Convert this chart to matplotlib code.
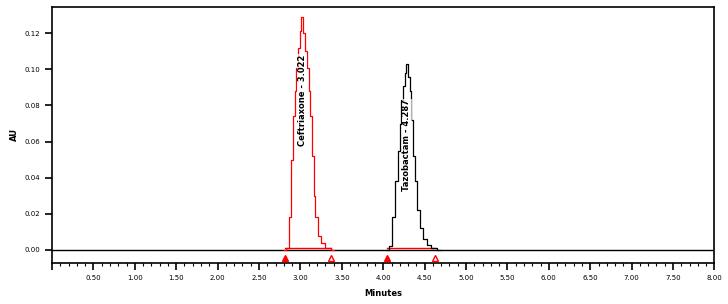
import numpy as np
import matplotlib
matplotlib.use("Agg")
from matplotlib import pyplot as plt
from matplotlib.ticker import MultipleLocator, FormatStrFormatter

# chromatogram readings (minutes, AU)
ceft_t = [2.80, 2.85, 2.87, 2.90, 2.92, 2.94, 2.96, 2.98, 3.00, 3.02,
          3.04, 3.06, 3.09, 3.11, 3.13, 3.15, 3.17, 3.19, 3.23, 3.27, 3.33, 3.40]
ceft_au = [0.000, 0.001, 0.018, 0.050, 0.074, 0.088, 0.101, 0.112, 0.121, 0.129,
           0.120, 0.110, 0.101, 0.088, 0.074, 0.052, 0.030, 0.018, 0.008, 0.004, 0.001, 0.000]
taz_t = [4.05, 4.09, 4.13, 4.16, 4.19, 4.21, 4.23, 4.25, 4.27, 4.29,
         4.31, 4.33, 4.35, 4.37, 4.39, 4.42, 4.46, 4.50, 4.55, 4.60, 4.70]
taz_au = [0.000, 0.002, 0.018, 0.038, 0.055, 0.070, 0.083, 0.091, 0.098, 0.103,
          0.096, 0.088, 0.072, 0.052, 0.038, 0.022, 0.012, 0.006, 0.003, 0.001, 0.000]

peak_names = ["Ceftriaxone - 3.022", "Tazobactam - 4.287"]
peak_rt = [3.022, 4.287]
label_y = [0.083, 0.058]
int_start = [2.81, 4.05]
int_end = [3.37, 4.63]

fig = plt.figure(figsize=(7.28, 3.04), dpi=100)
ax = fig.add_axes([0.0714, 0.135, 0.910, 0.842])

ax.axhline(0, color="black", lw=1.0, zorder=1)
ax.plot(ceft_t, ceft_au, color="red", lw=0.9, drawstyle="steps-mid", zorder=3)
ax.plot(taz_t, taz_au, color="black", lw=0.9, drawstyle="steps-mid", zorder=3)

# integration baselines + markers
for s, e in zip(int_start, int_end):
    ax.plot([s, e], [0.0012, 0.0012], color="red", lw=1.0, zorder=2)
    ax.plot([s], [-0.0042], marker="^", color="red", ms=5, zorder=4)
    ax.plot([e], [-0.0042], marker="^", mfc="white", mec="red", ms=5, zorder=4)

for name, rt, yy in zip(peak_names, peak_rt, label_y):
    ax.text(rt, yy, name, rotation=90, ha="center", va="center",
            fontsize=6, fontweight="bold", color="black", zorder=5,
            bbox=dict(facecolor="white", edgecolor="none", pad=0.2, alpha=0.7))

ax.set_xlim(0, 8.0)
ax.set_ylim(-0.0072, 0.1345)
ax.xaxis.set_major_locator(MultipleLocator(0.5))
ax.xaxis.set_minor_locator(MultipleLocator(0.1))
ax.xaxis.set_major_formatter(FormatStrFormatter("%.2f"))
ax.yaxis.set_major_locator(MultipleLocator(0.02))
ax.yaxis.set_major_formatter(FormatStrFormatter("%.2f"))
ax.tick_params(axis="both", which="major", direction="out", length=5, width=1.2,
               labelsize=5)
ax.tick_params(axis="x", which="minor", direction="out", length=2.5, width=0.8)
for sp in ax.spines.values():
    sp.set_linewidth(1.2)

fig.canvas.draw()
for lab in ax.get_xticklabels():
    if lab.get_text() == "0.00":
        lab.set_visible(False)

ax.set_xlabel("Minutes", fontsize=6, fontweight="bold", labelpad=6)
ax.set_ylabel("AU", fontsize=6, fontweight="bold", labelpad=4)

fig.savefig("out.png", dpi=100)
